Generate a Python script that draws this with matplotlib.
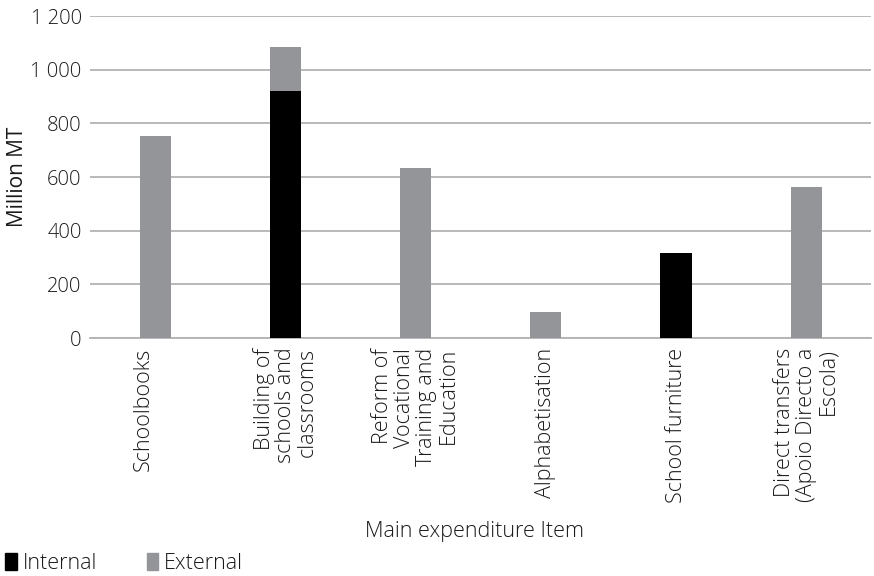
import matplotlib.pyplot as plt
import matplotlib.transforms as mtransforms
from matplotlib.ticker import FuncFormatter
from matplotlib.patches import Patch

plt.rcParams['font.family'] = ['Open Sans', 'DejaVu Sans']
plt.rcParams['font.weight'] = 'light'

categories = [
    "Schoolbooks",
    "Building of\nschools and\nclassrooms",
    "Reform of\nVocational\nTraining and\nEducation",
    "Alphabetisation",
    "School furniture",
    "Direct transfers\n(Apoio Directo a\nEscola)",
]
internal = [0, 921, 0, 0, 318, 0]
external = [752, 163, 633, 96, 0, 562]

c_internal = '#000000'
c_external = '#939598'
grid_col = '#b3b3b3'
txt_col = '#1a1a1a'

fig = plt.figure(figsize=(8.74, 5.76), dpi=100)
ax = fig.add_axes([0.103, 0.413, 0.894, 0.559])

x = list(range(len(categories)))
ax.bar(x, internal, width=0.24, color=c_internal, zorder=3)
ax.bar(x, external, width=0.24, bottom=internal, color=c_external, zorder=3)

ax.set_xlim(-0.5, len(categories) - 0.5)
ax.set_ylim(0, 1200)
ax.set_yticks(range(0, 1201, 200))
ax.yaxis.set_major_formatter(FuncFormatter(lambda v, p: f'{int(v):,}'.replace(',', ' ')))
ax.yaxis.grid(True, color=grid_col, linewidth=1.3, zorder=0)
ax.set_axisbelow(True)

for s in ['top', 'right', 'left']:
    ax.spines[s].set_visible(False)
ax.spines['bottom'].set_color(grid_col)
ax.spines['bottom'].set_linewidth(1.3)
ax.tick_params(axis='both', length=0, labelsize=14.5, colors=txt_col)
ax.tick_params(axis='y', pad=6)
ax.tick_params(axis='x', pad=7)

ax.set_xticks(x)
labels = ax.set_xticklabels(categories, rotation=90, ha='center', va='top',
                            multialignment='right', linespacing=1.05, fontsize=15.5)
# Excel nudged the single-line first label a bit to the left
labels[0].set_transform(labels[0].get_transform() +
                        mtransforms.ScaledTranslation(-0.12, 0, fig.dpi_scale_trans))

ax.set_ylabel('Million MT', fontsize=15, color=txt_col, labelpad=2)
fig.text(0.543, 0.077, 'Main expenditure Item', ha='center', va='center',
         fontsize=15.5, color=txt_col)

handles = [Patch(color=c_internal, label='Internal'),
           Patch(color=c_external, label='External')]
fig.legend(handles=handles, loc='lower left', bbox_to_anchor=(-0.016, -0.03),
           ncol=2, frameon=False, fontsize=15.5, handlelength=0.55,
           handleheight=0.9, handletextpad=0.25, columnspacing=2.3,
           labelcolor=txt_col)

fig.savefig('out.png', dpi=100)
